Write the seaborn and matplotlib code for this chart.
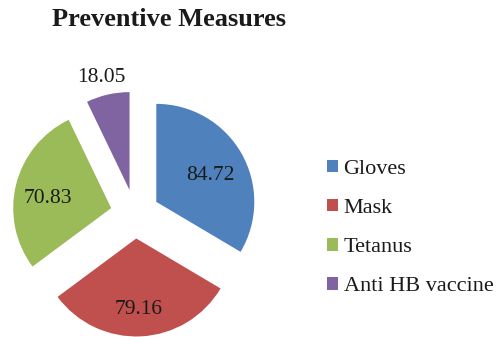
import matplotlib
matplotlib.use("Agg")
import matplotlib.pyplot as plt
import numpy as np
import seaborn as sns

# Share of respondents using each preventive measure
categories = ["Gloves", "Mask", "Tetanus", "Anti HB vaccine"]
values = [84.72, 79.16, 70.83, 18.05]
value_labels = ["84.72", "79.16", "70.83", "18.05"]
colors = ["#4F81BD", "#C0504D", "#9BBB59", "#8064A2"]

sns.set_theme(style="white")
plt.rcParams["font.family"] = ["Liberation Serif", "DejaVu Serif"]

W, H, DPI = 502, 337, 100
fig = plt.figure(figsize=(W / DPI, H / DPI), dpi=DPI)
ax = fig.add_axes([0, 0, 1, 1])

palette = sns.color_palette(colors)
wedges, _ = ax.pie(
    values,
    colors=palette,
    startangle=90,
    counterclock=False,
    explode=[0.25] * len(values),
    radius=1.0,
    wedgeprops=dict(linewidth=0),
)

# value labels: distance (in radii) from each wedge tip and a small angular nudge
label_dist = [0.63, 0.70, 0.66, 1.21]
label_nudge = [-1.5, -0.6, 3.0, 1.1]
for w, txt, d, nd in zip(wedges, value_labels, label_dist, label_nudge):
    mid = np.deg2rad((w.theta1 + w.theta2) / 2 + nd)
    cx, cy = w.center
    ax.text(cx + d * w.r * np.cos(mid), cy + d * w.r * np.sin(mid), txt,
            ha="center", va="center_baseline", fontsize=15.5, color="#1a1a1a")

# pie centre at (135, 214) px from top-left, radius 98 px
r_px, cx_px, cy_px = 98.0, 135.0, 337.0 - 214.0
ax.set_xlim(-cx_px / r_px, (W - cx_px) / r_px)
ax.set_ylim(-cy_px / r_px, (H - cy_px) / r_px)
ax.set_aspect("auto")
ax.axis("off")

fig.text(169 / W, 1 - 19 / H, "Preventive Measures", ha="center", va="center",
         fontsize=19, fontweight="bold", color="#1a1a1a")

leg = fig.legend(
    wedges, categories,
    loc="center left", bbox_to_anchor=(318 / W, 1 - 228 / H),
    frameon=False, fontsize=16,
    handlelength=0.5, handleheight=0.5, handletextpad=0.25,
    labelspacing=0.9, borderaxespad=0,
)
for t in leg.get_texts():
    t.set_color("#1a1a1a")

fig.savefig("out.png", dpi=DPI)
